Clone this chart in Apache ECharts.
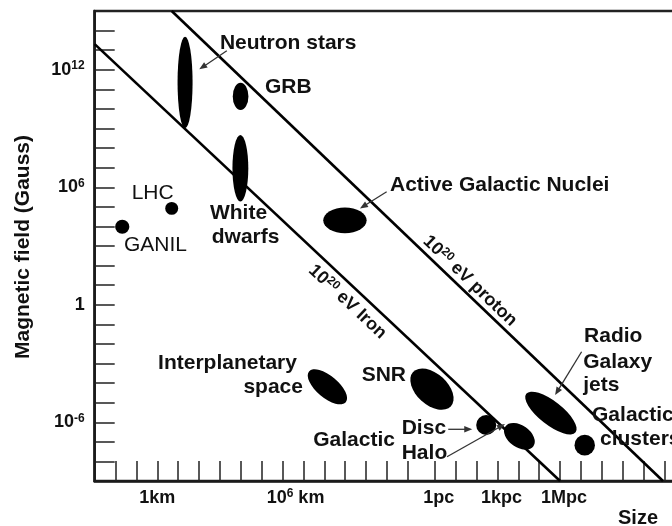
<!DOCTYPE html>
<html>
<head>
<meta charset="utf-8">
<script src="https://cdn.jsdelivr.net/npm/echarts@6/dist/echarts.min.js"></script>
<style>
  html, body { margin: 0; padding: 0; background: #fff; }
  #chart { width: 672px; height: 526px; }
</style>
</head>
<body>
<div id="chart"></div>
<script>
// Hillas diagram: x = log10(size / m), y = log10(B / gauss)

// axis ticks and tick labels
const sizeTicks = [1, 2, 3, 4, 5, 6, 7, 8, 9, 10, 11, 12, 13, 14, 15,
  16.3, 17.3, 18.3, 19.3, 20.3, 21.3, 22.3, 23.3, 24.3, 25.3, 26.3, 27.3, 28.3];
const fieldTicks = [-8, -7, -6, -5, -4, -3, -2, -1, 0, 1, 2, 3, 4, 5, 6, 7, 8, 9, 10, 11, 12, 13, 14];
const sizeLabelValues = [3, 9, 16.49, 19.49, 22.49];
const sizeLabelTexts = ['{b|1km}', '{p|10}{s|6}{b| km}', '{b|1pc}', '{b|1kpc}', '{b|1Mpc}'];
const fieldLabelValues = [12, 6, 0, -6];
const fieldLabelTexts = ['{b|10}{s|12}', '{b|10}{s|6}', '{b|1}', '{b|10}{s|-6}'];

// accelerator sites and astrophysical sources
const sourceNames = ['Neutron stars', 'GRB', 'White dwarfs', 'AGN', 'LHC', 'GANIL',
  'Interplanetary space', 'SNR', 'Galactic disc', 'Galactic halo', 'Radio galaxy jets', 'Galactic clusters'];
const sourceSize = [4.33, 6.99, 6.98, 11.99, 3.69, 1.32, 11.15, 16.16, 18.76, 20.35, 21.86, 23.48];
const sourceField = [11.35, 10.64, 6.97, 4.31, 4.92, 3.98, -4.19, -4.31, -6.14, -6.72, -5.53, -7.17];
const sourceHalfSize = [0.36, 0.375, 0.38, 1.04, 0.31, 0.34, 1.15, 1.22, 0.48, 0.82, 1.5, 0.49];
const sourceHalfField = [2.34, 0.70, 1.70, 0.66, 0.33, 0.36, 0.56, 0.8, 0.51, 0.56, 0.6, 0.53];
const sourceTilt = [0, 0, 0, 0, 0, 0, 40, 42, 0, 35, 38, 0];

// confinement limits for 10^20 eV particles
const ironLimit = [[0, 13.31], [22.3, -9]];
const protonLimit = [[3.69, 15], [27.23, -9]];

// annotation texts and their anchors
const noteTexts = ['Neutron stars', 'GRB', 'LHC', 'GANIL', 'White', 'dwarfs', 'Active Galactic Nuclei',
  'Interplanetary', 'space', 'SNR', 'Galactic', 'Disc', 'Halo', 'Radio', 'Galaxy', 'jets', 'Galactic', 'clusters'];
const noteSize = [6.00, 8.16, 1.77, 1.40, 5.52, 5.61, 14.15, 9.69, 9.98, 12.79, 10.47, 14.71, 14.71,
  23.45, 23.41, 23.41, 23.83, 24.21];
const noteField = [13.37, 11.10, 5.69, 3.05, 4.67, 3.47, 6.11, -2.99, -4.19, -3.59, -6.91, -6.31, -7.59,
  -1.60, -2.91, -4.10, -5.63, -6.87];

// pointers from labels to sources
const pointerFrom = [[6.33, 12.97], [13.99, 5.77], [16.94, -6.36], [16.88, -7.76], [23.33, -2.40]];
const pointerTo = [[5.01, 12.02], [12.71, 4.92], [18.09, -6.36], [19.66, -6.09], [22.06, -4.61]];

// labels along the two limit lines
const limitLabelTexts = ['{n|10}{s|20}{n| eV proton}', '{n|10}{s|20}{n| eV Iron}'];
const limitLabelPos = [[17.98, 1.21], [12.11, 0.15]];
const limitLines = [protonLimit, ironLimit];

const FONT = '"Liberation Sans", Arial, Helvetica, sans-serif';
const INK = '#111';

const tickRich = {
  b: { fontFamily: FONT, fontWeight: 'bold', fontSize: 18, lineHeight: 20, color: INK },
  p: { fontFamily: FONT, fontWeight: 'bold', fontSize: 18, lineHeight: 20, color: INK, padding: [0, 0, 0, 26] },
  s: { fontFamily: FONT, fontWeight: 'bold', fontSize: 12, lineHeight: 12, verticalAlign: 'top', color: INK }
};

const chart = echarts.init(document.getElementById('chart'), null, { renderer: 'canvas' });

const option = {
  animation: false,
  backgroundColor: '#fff',
  grid: {
    left: 94.7, top: 11, width: 29 * 20.87, height: 470,
    containLabel: false, outerBoundsMode: 'none',
    show: true, borderColor: '#222', borderWidth: 2.5, backgroundColor: 'transparent'
  },
  xAxis: {
    type: 'value', min: 0, max: 29,
    axisLine: { show: true, onZero: false, lineStyle: { color: '#1a1a1a', width: 2.5 } },
    axisTick: { show: true, inside: true, length: 20, customValues: sizeTicks, lineStyle: { color: '#222', width: 1.5 } },
    axisLabel: {
      show: true, margin: 7, customValues: sizeLabelValues, rich: tickRich,
      formatter: v => sizeLabelTexts[sizeLabelValues.indexOf(v)] || ''
    },
    splitLine: { show: false }
  },
  yAxis: {
    type: 'value', min: -9, max: 15,
    axisLine: { show: true, onZero: false, lineStyle: { color: '#1a1a1a', width: 2.5 } },
    axisTick: { show: true, inside: true, length: 20, customValues: fieldTicks, lineStyle: { color: '#222', width: 1.5 } },
    axisLabel: {
      show: true, margin: 10, customValues: fieldLabelValues, rich: tickRich,
      formatter: v => fieldLabelTexts[fieldLabelValues.indexOf(v)] || ''
    },
    splitLine: { show: false }
  },
  graphic: [
    {
      type: 'text', x: 23, y: 247, rotation: Math.PI / 2,
      style: { text: 'Magnetic field (Gauss)', font: 'bold 21px ' + FONT, fill: INK, align: 'center', verticalAlign: 'middle' }
    },
    {
      type: 'text', x: 638, y: 518,
      style: { text: 'Size', font: 'bold 20px ' + FONT, fill: INK, align: 'center', verticalAlign: 'middle' }
    }
  ],
  series: [
    {
      name: 'Iron limit', type: 'line', data: ironLimit, symbol: 'none',
      lineStyle: { color: '#000', width: 2.6 }, z: 3
    },
    {
      name: 'Proton limit', type: 'line', data: protonLimit, symbol: 'none',
      lineStyle: { color: '#000', width: 2.6 }, z: 3
    },
    {
      name: 'Sources', type: 'custom', z: 4,
      data: sourceSize.map((x, i) => [x, sourceField[i], sourceHalfSize[i], sourceHalfField[i], sourceTilt[i]]),
      encode: { x: 0, y: 1 },
      renderItem(params, api) {
        const c = api.coord([api.value(0), api.value(1)]);
        const s = api.size([api.value(2), api.value(3)]);
        return {
          type: 'circle', x: c[0], y: c[1], scaleX: s[0], scaleY: s[1],
          rotation: -api.value(4) * Math.PI / 180,
          shape: { cx: 0, cy: 0, r: 1 },
          style: { fill: '#000' }
        };
      }
    },
    {
      name: 'Notes', type: 'custom', z: 5,
      data: noteSize.map((x, i) => [x, noteField[i]]),
      encode: { x: 0, y: 1 },
      renderItem(params, api) {
        const i = params.dataIndex;
        const p = api.coord([api.value(0), api.value(1)]);
        const txt = noteTexts[i];
        const regular = txt === 'LHC' || txt === 'GANIL';
        const right = txt === 'Interplanetary' || txt === 'space';
        return {
          type: 'text', x: p[0], y: p[1],
          style: {
            text: txt, fill: INK,
            font: (regular ? '' : 'bold ') + '21px ' + FONT,
            align: right ? 'right' : 'left', verticalAlign: 'middle'
          }
        };
      }
    },
    {
      name: 'Pointers', type: 'custom', z: 5,
      data: pointerFrom.map((f, i) => [f[0], f[1], pointerTo[i][0], pointerTo[i][1]]),
      encode: { x: [0, 2], y: [1, 3] },
      renderItem(params, api) {
        const a = api.coord([api.value(0), api.value(1)]);
        const b = api.coord([api.value(2), api.value(3)]);
        const ang = Math.atan2(b[1] - a[1], b[0] - a[0]);
        const cs = Math.cos(ang), sn = Math.sin(ang);
        const L = 8, W = 3.2;
        const base = [b[0] - L * cs, b[1] - L * sn];
        return {
          type: 'group',
          children: [
            {
              type: 'line', shape: { x1: a[0], y1: a[1], x2: base[0] + cs, y2: base[1] + sn },
              style: { stroke: '#333', lineWidth: 1.3 }
            },
            {
              type: 'polygon',
              shape: { points: [b, [base[0] - W * sn, base[1] + W * cs], [base[0] + W * sn, base[1] - W * cs]] },
              style: { fill: '#333' }
            }
          ]
        };
      }
    },
    {
      name: 'Limit labels', type: 'custom', z: 5,
      data: limitLabelPos.map(p => [p[0], p[1]]),
      encode: { x: 0, y: 1 },
      renderItem(params, api) {
        const i = params.dataIndex;
        const p = api.coord([api.value(0), api.value(1)]);
        const l0 = api.coord(limitLines[i][0]);
        const l1 = api.coord(limitLines[i][1]);
        const ang = Math.atan2(l1[1] - l0[1], l1[0] - l0[0]);
        return {
          type: 'text', x: p[0], y: p[1], rotation: -ang,
          style: {
            text: limitLabelTexts[i], align: 'center', verticalAlign: 'middle',
            rich: {
              n: { fontFamily: FONT, fontWeight: 'bold', fontSize: 18, lineHeight: 20, fill: INK },
              s: { fontFamily: FONT, fontWeight: 'bold', fontSize: 12, lineHeight: 12, verticalAlign: 'top', fill: INK }
            }
          }
        };
      }
    }
  ]
};

chart.setOption(option);
</script>
</body>
</html>
